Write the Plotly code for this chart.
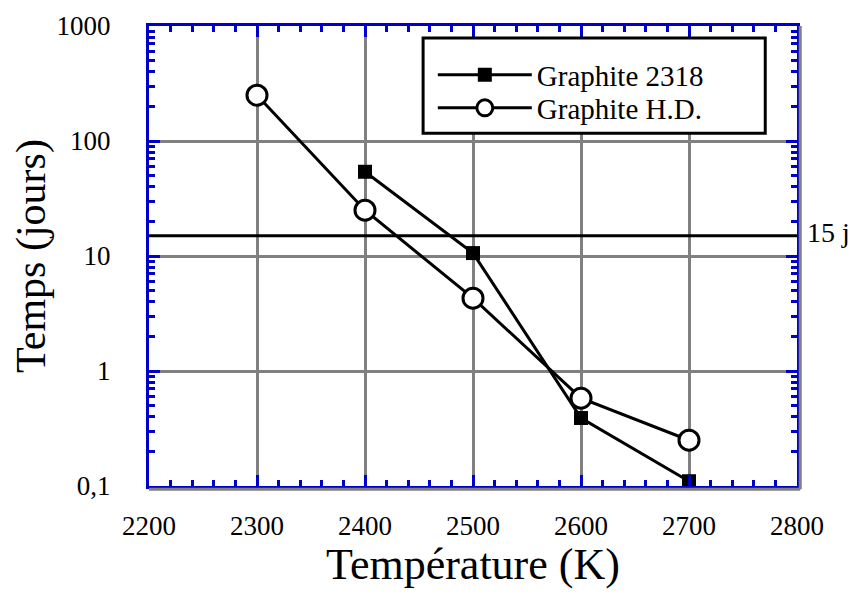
import math
import plotly.graph_objects as go

temps_2318 = [2400, 2500, 2600, 2700]
jours_2318 = [54, 10.6, 0.39, 0.11]
temps_hd = [2300, 2400, 2500, 2600, 2700]
jours_hd = [250, 25, 4.3, 0.58, 0.25]
seuil = 15
y_tickvals = [0.1, 1, 10, 100, 1000]
y_ticktext = ["0,1", "1", "10", "100", "1000"]
x_tickvals = [2200, 2300, 2400, 2500, 2600, 2700, 2800]

FONT = "Times New Roman, Liberation Serif, serif"
BLUE = "#0000CC"
GRAY = "#808080"

fig = go.Figure()
fig.add_trace(go.Scatter(
    x=temps_2318, y=jours_2318, name="Graphite 2318", mode="lines+markers",
    line=dict(color="black", width=3),
    marker=dict(symbol="square", size=14, color="black"),
    legend="legend",
))
fig.add_trace(go.Scatter(
    x=temps_hd, y=jours_hd, name="Graphite H.D.", mode="lines+markers",
    line=dict(color="black", width=3),
    marker=dict(symbol="circle", size=20, color="white", line=dict(color="black", width=3)),
    legend="legend2",
))
fig.add_shape(type="line", xref="paper", x0=0, x1=1, yref="y", y0=seuil, y1=seuil,
              line=dict(color="black", width=3))
fig.add_annotation(xref="paper", x=1.0, yref="y", y=math.log10(seuil), text="15 j", showarrow=False,
                   xanchor="left", xshift=8, yshift=3, font=dict(family=FONT, size=28, color="black"))
# gray shadow along right and bottom frame
fig.add_shape(type="line", xref="paper", yref="paper", x0=1.005, x1=1.005, y0=-0.007, y1=1,
              line=dict(color=GRAY, width=3))
fig.add_shape(type="line", xref="paper", yref="paper", x0=0, x1=1.005, y0=-0.007, y1=-0.007,
              line=dict(color=GRAY, width=3))
# legend frame
fig.add_shape(type="rect", xref="paper", yref="paper", x0=0.423, x1=0.951, y0=0.767, y1=0.974,
              line=dict(color="black", width=3), fillcolor="white", layer="above")

leg_common = dict(xanchor="left", yanchor="middle", borderwidth=0,
                  bgcolor="rgba(0,0,0,0)", font=dict(family=FONT, size=29), itemwidth=94)

fig.update_layout(
    template="none",
    width=841, height=581,
    margin=dict(l=141, r=52, t=18, b=103),
    paper_bgcolor="white", plot_bgcolor="white",
    font=dict(family=FONT, size=27, color="black"),
    showlegend=True,
    legend=dict(x=0.438, y=0.8935, **leg_common),
    legend2=dict(x=0.438, y=0.8217, **leg_common),
    xaxis=dict(
        automargin=False,
        range=[2200, 2800], tickvals=x_tickvals,
        showline=True, linecolor=BLUE, linewidth=3, mirror="allticks",
        ticks="inside", ticklen=11, tickwidth=3, tickcolor=BLUE,
        showgrid=True, gridcolor=GRAY, gridwidth=3,
        minor=dict(dtick=20, ticks="inside", ticklen=6, tickwidth=2.5, tickcolor=BLUE, showgrid=False),
        tickfont=dict(family=FONT, size=27, color="black"),
        ticklabelstandoff=14,
        title=dict(text="Température (K)", font=dict(family=FONT, size=44), standoff=12),
        zeroline=False,
    ),
    yaxis=dict(
        automargin=False,
        type="log", range=[-1, 3], tickvals=y_tickvals, ticktext=y_ticktext,
        showline=True, linecolor=BLUE, linewidth=3, mirror="allticks",
        ticks="inside", ticklen=11, tickwidth=3, tickcolor=BLUE,
        showgrid=True, gridcolor=GRAY, gridwidth=3,
        minor=dict(dtick="D1", ticks="inside", ticklen=6, tickwidth=2.5, tickcolor=BLUE, showgrid=False),
        tickfont=dict(family=FONT, size=27, color="black"),
        ticklabelstandoff=30,
        title=dict(text="Temps (jours)", font=dict(family=FONT, size=42), standoff=12),
        zeroline=False,
    ),
)

fig.write_html("out.html")
